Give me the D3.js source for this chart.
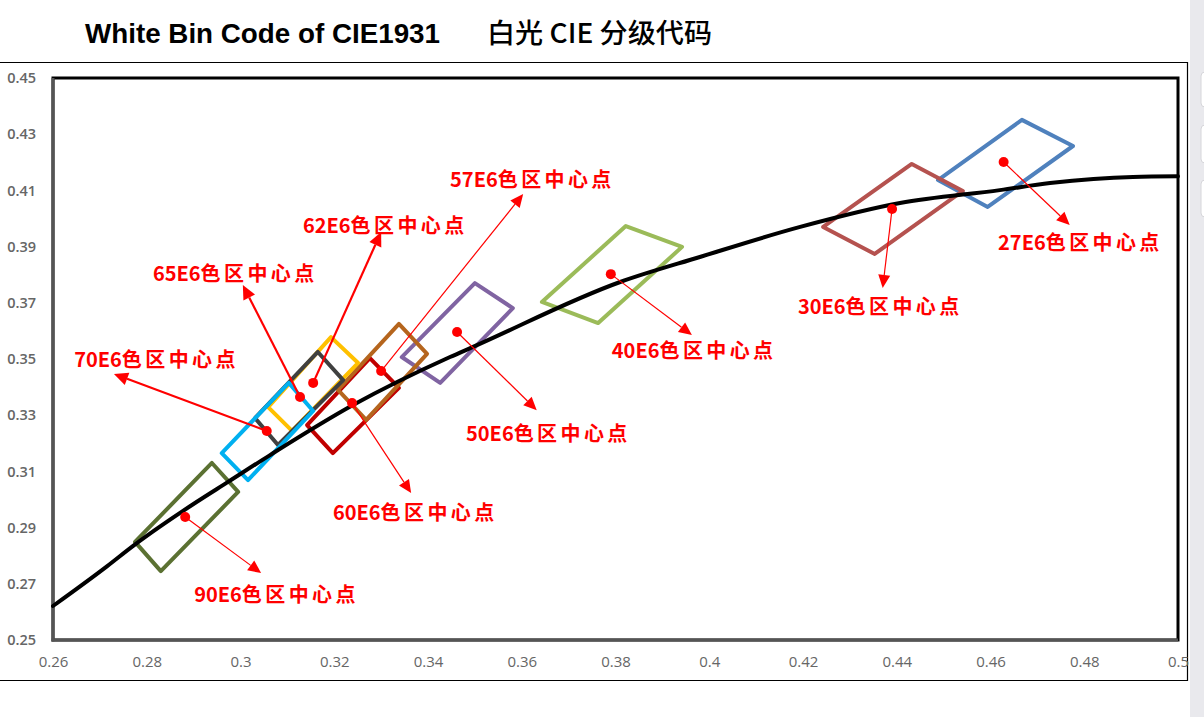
<!DOCTYPE html>
<html><head><meta charset="utf-8">
<script src="https://cdn.jsdelivr.net/npm/d3@7"></script>
<style>
html,body{margin:0;padding:0;background:#fff;overflow:hidden}
svg{display:block}
</style></head>
<body>
<svg id="chart" width="1204" height="717"></svg>
<script>
// ---- data ----
const xTicks = [0.26,0.28,0.30,0.32,0.34,0.36,0.38,0.40,0.42,0.44,0.46,0.48,0.50];
const xTickLabels = ["0.26","0.28","0.3","0.32","0.34","0.36","0.38","0.4","0.42","0.44","0.46","0.48","0.5"];
const yTicks = [0.25,0.27,0.29,0.31,0.33,0.35,0.37,0.39,0.41,0.43,0.45];
const yTickLabels = ["0.25","0.27","0.29","0.31","0.33","0.35","0.37","0.39","0.41","0.43","0.45"];

// Planckian locus (black curve)
const locusX = [0.2600,0.2715,0.2771,0.2907,0.2971,0.3063,0.3240,0.3447,0.3496,0.3810,0.3980,0.4194,0.4407,0.4620,0.4727,0.4904,0.5000];
const locusY = [0.2621,0.2762,0.2835,0.2992,0.3060,0.3158,0.3336,0.3507,0.3543,0.3774,0.3863,0.3970,0.4055,0.4101,0.4126,0.4148,0.4150];

// bins (drawing order)
const binNames = ["27E6","30E6","40E6","50E6","60E6","57E6","62E6","65E6","70E6","90E6"];
const binColors = ["#4f81bd","#b5524f","#9bbb59","#8064a2","#c00000","#b5651d","#ffc000","#404040","#00b0f0","#5b7132"];
const binX = [
  [0.4488,0.4667,0.4776,0.4594],
  [0.4243,0.4432,0.4541,0.4353],
  [0.3643,0.3822,0.3942,0.3763],
  [0.3344,0.3500,0.3581,0.3426],
  [0.3276,0.3338,0.3197,0.3142],
  [0.3338,0.3398,0.3268,0.3208],
  [0.3193,0.3251,0.3110,0.3059],
  [0.3165,0.3219,0.3080,0.3031],
  [0.3103,0.3155,0.3016,0.2960],
  [0.2939,0.2995,0.2830,0.2775]
];
const binY = [
  [0.4137,0.4351,0.4258,0.4041],
  [0.3970,0.4194,0.4098,0.3874],
  [0.3703,0.3973,0.3899,0.3628],
  [0.3507,0.3770,0.3681,0.3415],
  [0.3503,0.3397,0.3165,0.3265],
  [0.3625,0.3518,0.3283,0.3390],
  [0.3578,0.3486,0.3244,0.3329],
  [0.3525,0.3425,0.3194,0.3290],
  [0.3415,0.3315,0.3069,0.3165],
  [0.3130,0.3027,0.2745,0.2849]
];
// centre points
const centerX = [0.4628,0.4390,0.3790,0.3462,0.3238,0.3300,0.3155,0.3127,0.3056,0.2882];
const centerY = [0.4201,0.4034,0.3802,0.3596,0.3343,0.3457,0.3415,0.3365,0.3244,0.2938];
// annotation arrows (tip) and labels (centre) in data coordinates
const tipX = [0.4769,0.4370,0.3963,0.3632,0.3364,0.3603,0.3300,0.3005,0.2730,0.3044];
const tipY = [0.3977,0.3753,0.3585,0.3318,0.3023,0.4087,0.3952,0.3763,0.3447,0.2738];
const labelX = [0.4791,0.4364,0.3967,0.3656,0.3372,0.3622,0.3308,0.2988,0.2820,0.3076];
const labelY = [0.3920,0.3692,0.3536,0.3240,0.2959,0.4144,0.3980,0.3810,0.3503,0.2667];
const labelSuffix = "色区中心点";
const thickArrow = [false,false,false,false,false,false,true,true,true,false];

// ---- layout ----
const svg = d3.select("#chart");
const L = 53, R = 1178, T = 78, B = 640;
const x = d3.scaleLinear().domain([0.26,0.5]).range([L,R]);
const y = d3.scaleLinear().domain([0.25,0.45]).range([B,T]);

// outer frame
svg.append("line").attr("x1",0).attr("x2",1187).attr("y1",62.5).attr("y2",62.5).attr("stroke","#000").attr("stroke-width",1.2);
svg.append("line").attr("x1",0).attr("x2",1187).attr("y1",680.5).attr("y2",680.5).attr("stroke","#000").attr("stroke-width",1.2);
svg.append("line").attr("x1",1187.5).attr("x2",1187.5).attr("y1",62).attr("y2",681).attr("stroke","#000").attr("stroke-width",1.2);

// scrollbar area
svg.append("rect").attr("x",1190).attr("y",0).attr("width",14).attr("height",717).attr("fill","#e9e9ed");
[[72,35],[125,38],[180,37]].forEach(b=>{
  svg.append("rect").attr("x",1201).attr("y",b[0]).attr("width",12).attr("height",b[1]).attr("rx",4)
    .attr("fill","#fff").attr("stroke","#d6d6da");
});

// title
svg.append("text").attr("x",85).attr("y",43).attr("font-family","Liberation Sans, Arial, sans-serif")
  .attr("font-weight","bold").attr("font-size",27).attr("fill","#000")
  .attr("textLength",355).attr("lengthAdjust","spacingAndGlyphs").text("White Bin Code of CIE1931");
svg.append("text").attr("x",487).attr("y",43).attr("font-family","Noto Sans CJK SC, sans-serif")
  .attr("font-weight","500").attr("font-size",27).attr("fill","#000")
  .attr("textLength",225).attr("lengthAdjust","spacingAndGlyphs").text("白光 CIE 分级代码");

// plot frame
svg.append("rect").attr("x",L).attr("y",T).attr("width",R-L).attr("height",B-T)
  .attr("fill","#fff").attr("stroke","#000").attr("stroke-width",3);
svg.append("line").attr("x1",L).attr("x2",L).attr("y1",T).attr("y2",B+1.5).attr("stroke","#555").attr("stroke-width",3);
svg.append("line").attr("x1",L-1.5).attr("x2",R).attr("y1",B).attr("y2",B).attr("stroke","#555").attr("stroke-width",3);

// axes
const yAxis = svg.append("g").attr("transform",`translate(${L},0)`)
  .call(d3.axisLeft(y).tickValues(yTicks).tickSize(0).tickPadding(17).tickFormat((d,i)=>yTickLabels[i]));
yAxis.select(".domain").remove();
yAxis.selectAll("text").style("font-family","Open Sans, sans-serif").style("font-size","14.5px")
  .style("font-weight","600").attr("fill","#666");

const xAxis = svg.append("g").attr("transform",`translate(0,${B})`)
  .call(d3.axisBottom(x).tickValues(xTicks).tickSize(0).tickPadding(16).tickFormat((d,i)=>xTickLabels[i]));
xAxis.select(".domain").remove();
xAxis.selectAll("text").style("font-family","Open Sans, sans-serif").style("font-size","15px")
  .attr("fill","#666");

// bins
const plot = svg.append("g");
binNames.forEach((n,i)=>{
  const pts = binX[i].map((v,k)=>[x(v),y(binY[i][k])]);
  plot.append("path").attr("d",d3.line()(pts)+"Z").attr("fill","none")
    .attr("stroke",binColors[i]).attr("stroke-width",4).attr("stroke-linejoin","round");
});

// locus curve
const locus = locusX.map((v,i)=>[x(v),y(locusY[i])]);
plot.append("path").attr("d",d3.line().curve(d3.curveMonotoneX)(locus))
  .attr("fill","none").attr("stroke","#000").attr("stroke-width",4).attr("stroke-linecap","round");

// annotations
const ann = svg.append("g");
binNames.forEach((n,i)=>{
  const cx = x(centerX[i]), cy = y(centerY[i]);
  const tx = x(tipX[i]), ty = y(tipY[i]);
  const dx = tx-cx, dy = ty-cy, len = Math.hypot(dx,dy);
  const ux = dx/len, uy = dy/len;
  const hl = thickArrow[i] ? 14 : 13, hw = thickArrow[i] ? 6.5 : 6;
  const bx = tx-ux*hl, by = ty-uy*hl;
  ann.append("line").attr("x1",cx).attr("y1",cy).attr("x2",bx).attr("y2",by)
    .attr("stroke","#ff0000").attr("stroke-width",thickArrow[i]?2.2:1.2);
  ann.append("path").attr("d",d3.line()([[tx,ty],[bx-uy*hw,by+ux*hw],[bx+uy*hw,by-ux*hw]])+"Z")
    .attr("fill","#ff0000");
  ann.append("circle").attr("cx",cx).attr("cy",cy).attr("r",5).attr("fill","#ff0000");
  const t = ann.append("text").attr("x",x(labelX[i])-82).attr("y",y(labelY[i]))
    .attr("dominant-baseline","central").attr("font-family","Noto Sans CJK SC, sans-serif")
    .attr("font-weight","bold").attr("font-size",20).attr("fill","#ff0000");
  t.append("tspan").text(n);
  t.append("tspan").attr("letter-spacing",3.4).text(labelSuffix);
});
</script>
</body></html>
